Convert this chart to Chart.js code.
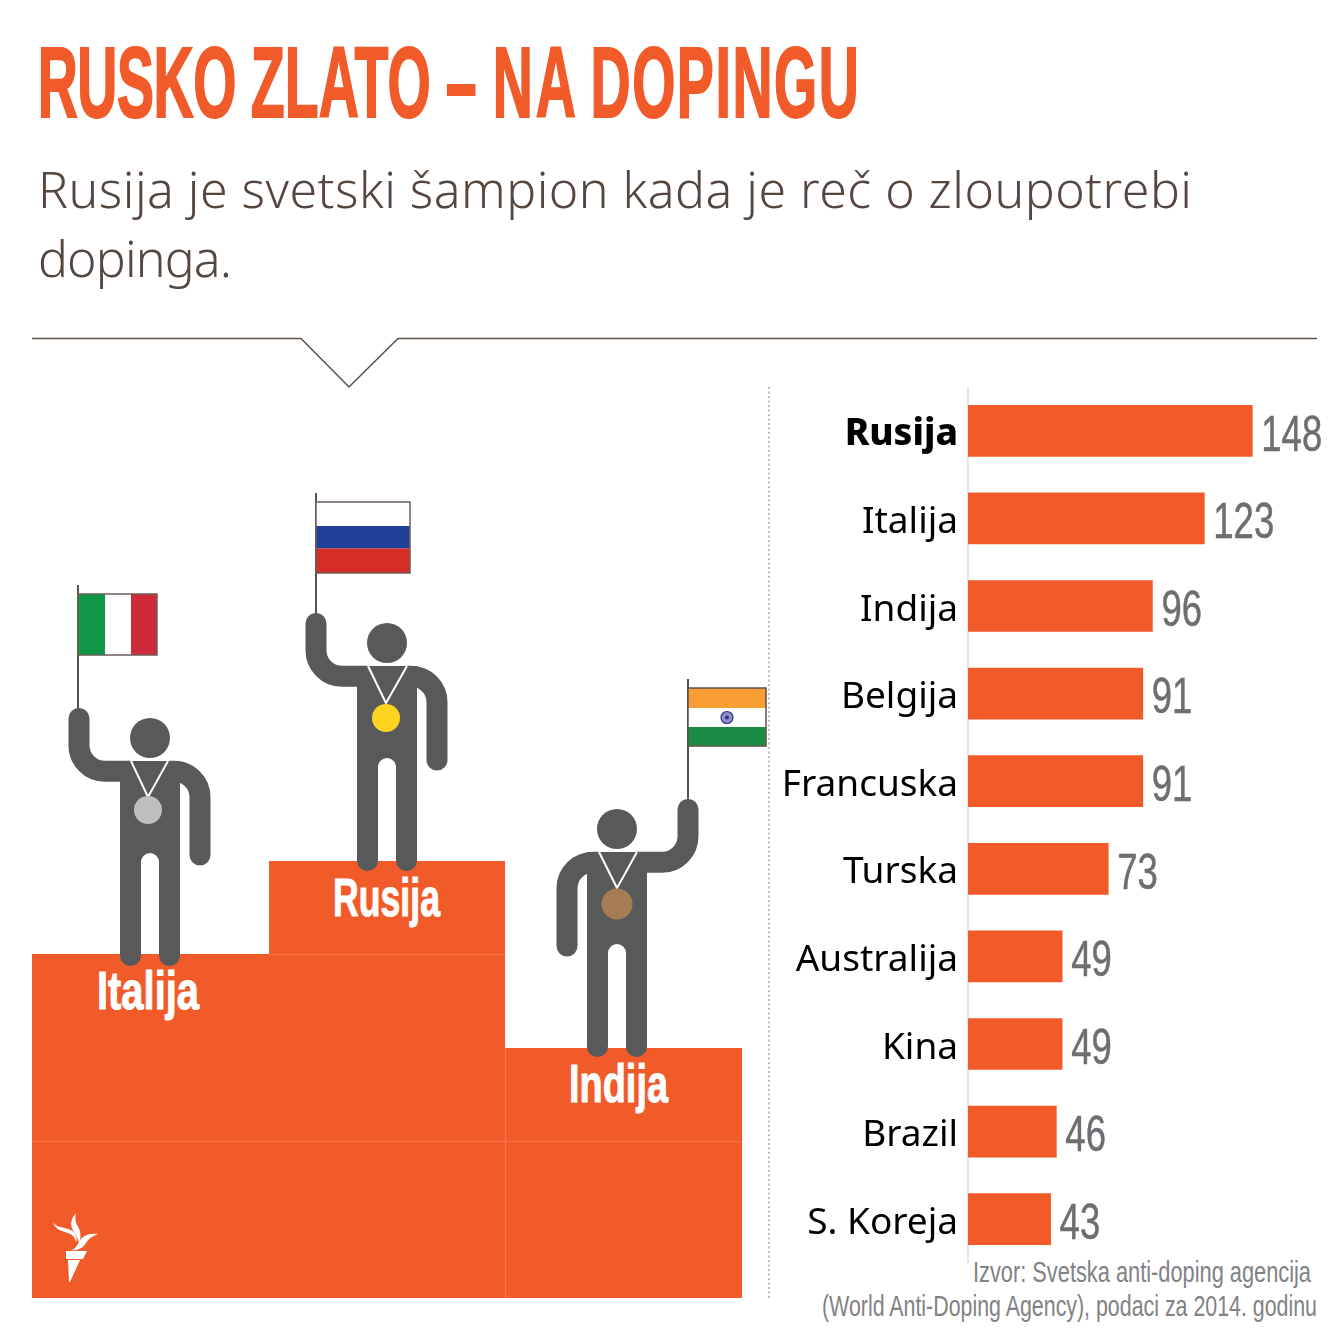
<!DOCTYPE html>
<html lang="sr">
<head>
<meta charset="utf-8">
<title>Rusko zlato - na dopingu</title>
<script src="https://cdn.jsdelivr.net/npm/chart.js@4/dist/chart.umd.js"></script>
<style>
    html, body { margin: 0; padding: 0; background: #fff; overflow: hidden; }
    #scena { position: absolute; left: 0; top: 0; }
    #graf { position: absolute; left: 770px; top: 387px; }
    .uski { font-family: "Liberation Sans Narrow", "Liberation Sans", sans-serif; }
    .naslov { font-family: "Liberation Sans", sans-serif; font-weight: 700; font-size: 100px; fill: #f15a29; stroke: #f15a29; stroke-width: 2px; }
    .podnaslov { font-family: "Noto Sans", sans-serif; font-weight: 300; font-size: 50px; fill: #54473f; }
    .postolje { font-weight: 700; font-size: 53px; fill: #fff; stroke: #fff; stroke-width: 1px; }
    .izvor { font-size: 29px; fill: #808285; }
</style>
</head>
<body>
<svg id="scena" width="1333" height="1333" viewBox="0 0 1333 1333" xmlns="http://www.w3.org/2000/svg" xmlns:xlink="http://www.w3.org/1999/xlink">
    <defs>
        <g id="figura" fill="#58595b">
            <circle cx="150" cy="738" r="20"/>
            <path d="M120 761H180V955.500a10.500 10.500 0 0 1 -21 0V862a9 9 0 0 0 -18 0V955.500a10.500 10.500 0 0 1 -21 0Z"/>
            <path d="M79 718.500V745A26 26 0 0 0 105 771.300H130M170 771.300H174A26 26 0 0 1 200 797V855" fill="none" stroke="#58595b" stroke-width="21" stroke-linecap="round"/>
        </g>
    </defs>

    <!-- naslov: suzen tekst, reci postavljene po x -->
    <text class="naslov" transform="translate(0 116.500) scale(0.555 1)" y="0"><tspan x="68" letter-spacing="-0.800">RUSKO </tspan><tspan x="452">ZLATO </tspan><tspan x="803">– </tspan><tspan x="888" letter-spacing="5">NA </tspan><tspan x="1064" letter-spacing="2.800">DOPINGU</tspan></text>
    <text class="podnaslov" x="38" y="208" textLength="1154" lengthAdjust="spacing">Rusija je svetski šampion kada je reč o zloupotrebi</text>
    <text class="podnaslov" x="38" y="277" textLength="194" lengthAdjust="spacing">dopinga.</text>
    <path d="M32 338.500H301L349 387L398 338.500H1317" fill="none" stroke="#5f5048" stroke-width="1.500"/>

    <!-- postolja -->
    <rect x="32" y="954" width="473" height="344" fill="#f15a29"/>
    <rect x="269" y="861" width="236" height="93" fill="#f15a29"/>
    <rect x="505" y="1048" width="237" height="250" fill="#f15a29"/>
    <path d="M269 954.500H505M32 1141.500H742M505.500 1048V1298" stroke="#f4734a" stroke-width="1" fill="none"/>

    <!-- Italija -->
    <path d="M78 585V710" stroke="#5f5048" stroke-width="2"/>
    <rect x="78" y="594" width="27" height="61" fill="#0f9647"/>
    <rect x="105" y="594" width="26" height="61" fill="#fff"/>
    <rect x="131" y="594" width="26" height="61" fill="#cf2a3a"/>
    <rect x="78" y="594" width="79" height="61" fill="none" stroke="#6b5f58" stroke-width="1.500"/>
    <use xlink:href="#figura" href="#figura"/>
    <path d="M131 761L148 797L168 761" fill="none" stroke="#fff" stroke-width="2"/>
    <circle cx="148" cy="810" r="14" fill="#bcbec0"/>

    <!-- Rusija -->
    <path d="M316 493V615" stroke="#5f5048" stroke-width="2"/>
    <rect x="316" y="502" width="94" height="24" fill="#fff"/>
    <rect x="316" y="526" width="94" height="22.500" fill="#21409a"/>
    <rect x="316" y="548.500" width="94" height="24.500" fill="#d62d27"/>
    <rect x="316" y="502" width="94" height="71" fill="none" stroke="#6b5f58" stroke-width="1.500"/>
    <use xlink:href="#figura" href="#figura" transform="translate(237 -95)"/>
    <path d="M368 666L386 703L407 666" fill="none" stroke="#fff" stroke-width="2"/>
    <circle cx="386" cy="718" r="14" fill="#fcd420"/>

    <!-- Indija -->
    <path d="M688 679V801" stroke="#5f5048" stroke-width="2"/>
    <rect x="688" y="688" width="78" height="20" fill="#f99d35"/>
    <rect x="688" y="708" width="78" height="19" fill="#fff"/>
    <rect x="688" y="727" width="78" height="19" fill="#1a8c45"/>
    <rect x="688" y="688" width="78" height="58" fill="none" stroke="#5f5048" stroke-width="1.500"/>
    <circle cx="727" cy="717.500" r="6" fill="#8f8fc4" stroke="#2e3192" stroke-width="1.200"/>
    <circle cx="727" cy="717.500" r="2" fill="#2e3192"/>
    <use xlink:href="#figura" href="#figura" transform="translate(767 91) scale(-1 1)"/>
    <path d="M599 852L617 888L637 852" fill="none" stroke="#fff" stroke-width="2"/>
    <circle cx="617" cy="904" r="15.500" fill="#a67c52"/>

    <text class="uski postolje" x="333" y="916" textLength="107" lengthAdjust="spacingAndGlyphs">Rusija</text>
    <text class="uski postolje" x="97" y="1009" textLength="102" lengthAdjust="spacingAndGlyphs">Italija</text>
    <text class="uski postolje" x="569" y="1102" textLength="99" lengthAdjust="spacingAndGlyphs">Indija</text>

    <!-- baklja -->
    <g fill="#fff">
        <path d="M68 1260H80L70 1282H69Z"/>
        <path d="M66 1251H87L83 1259H66Z"/>
        <path d="M53 1222C56 1232 66 1231 72 1235C75 1238 76 1241 76 1243C78 1236 75 1231 68 1229C62 1227 56 1227 53 1222Z"/>
        <path d="M76 1213C70 1220 70 1226 74 1232C77 1236 78 1240 79 1243C82 1236 80 1229 77 1225C75 1221 75 1217 76 1213Z"/>
        <path d="M98 1234C88 1233 82 1236 79 1242C77 1246 75 1249 71 1250C78 1251 83 1248 86 1243C89 1238 93 1236 98 1234Z"/>
    </g>

    <path d="M769 387V1298" stroke="#bcbec0" stroke-width="2" stroke-dasharray="2 2.500"/>

    <text class="uski izvor" x="973" y="1282" textLength="338" lengthAdjust="spacingAndGlyphs">Izvor: Svetska anti-doping agencija</text>
    <text class="uski izvor" x="822" y="1316" textLength="495" lengthAdjust="spacingAndGlyphs">(World Anti-Doping Agency), podaci za 2014. godinu</text>
</svg>

<canvas id="graf" width="563" height="876" style="width:563px;height:876px"></canvas>

<script>
// Podaci sa grafika
const drzave = ['Rusija', 'Italija', 'Indija', 'Belgija', 'Francuska', 'Turska', 'Australija', 'Kina', 'Brazil', 'S. Koreja'];
const slucajevi = [148, 123, 96, 91, 91, 73, 49, 49, 46, 43];

const NARANDZASTA = '#f15a29';

// Brojevi desno od stubica (uzani font nije instaliran, pa se tekst suzava)
const vrednostiPlugin = {
    id: 'vrednosti',
    afterDatasetsDraw(chart) {
        const { ctx } = chart;
        const meta = chart.getDatasetMeta(0);
        ctx.save();
        ctx.font = '50px "Liberation Sans", sans-serif';
        ctx.fillStyle = '#6d6e71';
        ctx.strokeStyle = '#6d6e71';
        ctx.lineWidth = 0.5;
        ctx.textAlign = 'left';
        ctx.textBaseline = 'middle';
        meta.data.forEach((bar, i) => {
            ctx.save();
            ctx.translate(bar.x + 9, bar.y + 6);
            ctx.scale(0.73, 1);
            ctx.fillText(slucajevi[i], 0, 0);
            ctx.strokeText(slucajevi[i], 0, 0);
            ctx.restore();
        });
        ctx.restore();
    }
};

new Chart(document.getElementById('graf').getContext('2d'), {
    type: 'bar',
    data: {
        labels: drzave,
        datasets: [{
            data: slucajevi,
            backgroundColor: NARANDZASTA,
            borderWidth: 0,
            barThickness: 51
        }]
    },
    options: {
        indexAxis: 'y',
        responsive: false,
        animation: false,
        layout: { padding: 0 },
        scales: {
            x: {
                display: false,
                min: 0,
                max: 190
            },
            y: {
                afterFit(scale) {
                    scale.width = 198;
                    scale.paddingTop = 0;
                    scale.paddingBottom = 0;
                },
                grid: { display: false, drawTicks: false },
                border: { display: true, color: '#e6e6e6', width: 2 },
                ticks: {
                    color: '#000',
                    padding: 10,
                    labelOffset: 4,
                    autoSkip: false,
                    font: (c) => ({
                        family: '"Noto Sans", sans-serif',
                        size: 37,
                        weight: c.index === 0 ? '800' : '400'
                    })
                }
            }
        },
        plugins: {
            legend: { display: false },
            tooltip: { enabled: false }
        }
    },
    plugins: [vrednostiPlugin]
});
</script>
</body>
</html>
